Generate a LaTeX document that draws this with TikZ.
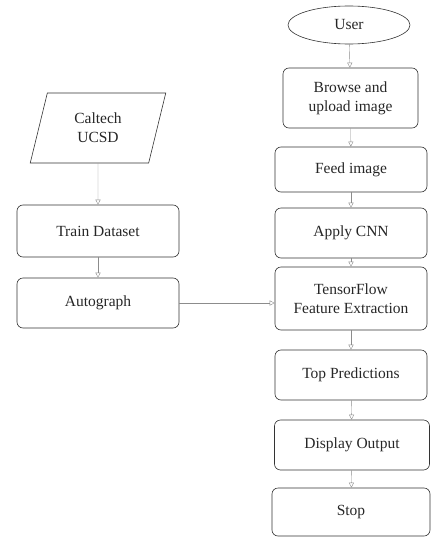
\documentclass[tikz,border=0pt]{standalone}
\usepackage{fontspec}
\setmainfont{Liberation Serif}
\usetikzlibrary{shapes.geometric,arrows.meta}
\begin{document}
\begin{tikzpicture}[x=1pt,y=-1pt,
    every node/.style={font=\fontsize{15.5}{19}\selectfont,text=black!85,align=center},
    box/.style={draw=black!80,line width=0.6pt,rounded corners=6pt,minimum width=152pt,minimum height=50pt},
    oval/.style={draw=black!80,line width=0.6pt,ellipse,minimum width=122pt,minimum height=38pt},
    io/.style={draw=black!80,line width=0.6pt,trapezium,trapezium left angle=76,trapezium right angle=104,
        trapezium stretches,minimum width=136pt,minimum height=70pt},
    line/.style={draw=black!45,-{Triangle[open,length=5pt,width=5pt]}}]
    \useasboundingbox (0,0) rectangle (432,538);
    % right column
    \node[oval] (user) at (349,25) {User};
    \node[box,minimum width=135pt,minimum height=60pt] (browse) at (350.5,98) {Browse and\\upload image};
    \node[box,minimum height=45pt] (feed) at (351,169.5) {Feed image};
    \node[box] (cnn) at (351,233) {Apply CNN};
    \node[box,minimum height=63pt] (tf) at (351,298.5) {TensorFlow\\Feature Extraction};
    \node[box] (top) at (351,375) {Top Predictions};
    \node[box,minimum width=155pt] (disp) at (352,445) {Display Output};
    \node[box,minimum width=158pt,minimum height=48pt] (stop) at (351,512) {Stop};
    % left column
    \node[io] (data) at (98,128) {Caltech\\UCSD};
    \node[box,minimum width=162pt,minimum height=52pt] (train) at (98,231) {Train Dataset};
    \node[box,minimum width=162pt] (auto) at (98,303) {Autograph};
    % arrows
    \draw[line] (user) -- (browse);
    \draw[line] (browse) -- (feed);
    \draw[line] (feed) -- (cnn);
    \draw[line] (cnn) -- (tf);
    \draw[line] (tf) -- (top);
    \draw[line] (top) -- (disp);
    \draw[line] (disp) -- (stop);
    \draw[line] (data.south) -- (train);
    \draw[line] (train) -- (auto);
    \draw[line] (auto.east) -- (auto.east -| tf.west);
\end{tikzpicture}
\end{document}
